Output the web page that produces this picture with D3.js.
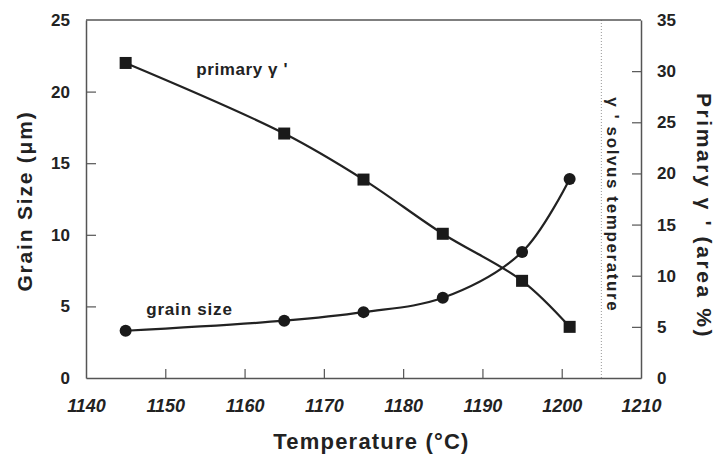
<!DOCTYPE html>
<html>
<head>
<meta charset="utf-8">
<script src="https://cdn.jsdelivr.net/npm/d3@7"></script>
<style>
  body { margin: 0; background: #fff; }
  text { font-family: "Liberation Sans", Arial, sans-serif; fill: #222; }
</style>
</head>
<body>
<div id="chart"></div>
<script>
// temperatures (°C)
const temps = [1145, 1165, 1175, 1185, 1195, 1201];
const grainSize = [3.3, 4.0, 4.6, 5.6, 8.8, 13.9];        // µm, left axis
const primaryGamma = [30.8, 23.9, 19.4, 14.1, 9.5, 5.0];  // area %, right axis
const solvusTemp = 1205;
const xTicks = [1140, 1150, 1160, 1170, 1180, 1190, 1200, 1210];
const yLeftTicks = [0, 5, 10, 15, 20, 25];
const yRightTicks = [0, 5, 10, 15, 20, 25, 30, 35];

const W = 721, H = 459;
const margin = { top: 20, right: 80, bottom: 81, left: 86 };
const width = W - margin.left - margin.right,
      height = H - margin.top - margin.bottom;

const svg = d3.select("#chart").append("svg")
  .attr("width", W).attr("height", H);
const g = svg.append("g")
  .attr("transform", "translate(" + margin.left + "," + margin.top + ")");

const x = d3.scaleLinear().domain([1140, 1210]).range([0, width]);
const yL = d3.scaleLinear().domain([0, 25]).range([height, 0]);
const yR = d3.scaleLinear().domain([0, 35]).range([height, 0]);

const axisColor = "#555";

// dotted solvus line
g.append("line")
  .attr("x1", x(solvusTemp)).attr("x2", x(solvusTemp))
  .attr("y1", 0).attr("y2", height)
  .attr("stroke", "#999").attr("stroke-width", 1)
  .attr("stroke-dasharray", "1,2");

// top border
g.append("line")
  .attr("x1", 0).attr("x2", width).attr("y1", 0).attr("y2", 0)
  .attr("stroke", axisColor).attr("stroke-width", 1.5);

// bottom axis
const xAxis = g.append("g")
  .attr("transform", "translate(0," + height + ")")
  .call(d3.axisBottom(x).tickValues(xTicks).tickFormat(d3.format("d"))
    .tickSizeInner(-9).tickSizeOuter(0).tickPadding(21));
xAxis.selectAll("text")
  .style("font-size", "18px").style("font-weight", "bold").style("font-style", "italic");

// left axis
const leftAxis = g.append("g")
  .call(d3.axisLeft(yL).tickValues(yLeftTicks).tickSizeInner(-10).tickSizeOuter(0).tickPadding(16));
leftAxis.selectAll("text").style("font-size", "17px").style("font-weight", "bold");

// right axis
const rightAxis = g.append("g")
  .attr("transform", "translate(" + width + ",0)")
  .call(d3.axisRight(yR).tickValues(yRightTicks).tickSizeInner(-9).tickSizeOuter(0).tickPadding(16));
rightAxis.selectAll("text").style("font-size", "17px").style("font-weight", "bold");

[xAxis, leftAxis, rightAxis].forEach(a => {
  a.select(".domain").attr("stroke", axisColor).attr("stroke-width", 1.5);
  a.selectAll(".tick line").attr("stroke", axisColor).attr("stroke-width", 1.2);
  a.selectAll(".tick text").attr("fill", "#222");
});
// edge ticks coincide with the frame
xAxis.selectAll(".tick line").filter(d => d === 1140 || d === 1210).remove();
leftAxis.selectAll(".tick line").filter(d => d === 0 || d === 25).remove();
rightAxis.selectAll(".tick line").filter(d => d === 0 || d === 35).remove();

// curves
const grainData = temps.map((t, i) => ({ t, v: grainSize[i] }));
const primData = temps.map((t, i) => ({ t, v: primaryGamma[i] }));

g.append("path")
  .datum(primData)
  .attr("fill", "none").attr("stroke", "#222").attr("stroke-width", 2.2)
  .attr("d", d3.line().x(d => x(d.t)).y(d => yR(d.v)).curve(d3.curveCatmullRom.alpha(0.5)));

g.append("path")
  .datum(grainData)
  .attr("fill", "none").attr("stroke", "#222").attr("stroke-width", 2.2)
  .attr("d", d3.line().x(d => x(d.t)).y(d => yL(d.v)).curve(d3.curveCatmullRom.alpha(0.5)));

// markers
const sq = 12;
g.selectAll("rect.prim")
  .data(primData).enter().append("rect")
  .attr("class", "prim")
  .attr("x", d => x(d.t) - sq / 2).attr("y", d => yR(d.v) - sq / 2)
  .attr("width", sq).attr("height", sq)
  .attr("fill", "#1a1a1a");

g.selectAll("circle.grain")
  .data(grainData).enter().append("circle")
  .attr("class", "grain")
  .attr("cx", d => x(d.t)).attr("cy", d => yL(d.v)).attr("r", 6)
  .attr("fill", "#1a1a1a");

// annotations
g.append("text")
  .attr("x", x(1153.9)).attr("y", yR(29.6))
  .style("font-size", "17px").style("font-weight", "bold").style("letter-spacing", "0.6px")
  .text("primary γ '");

g.append("text")
  .attr("x", x(1147.6)).attr("y", yL(4.4))
  .style("font-size", "17px").style("font-weight", "bold").style("letter-spacing", "0.8px")
  .text("grain size");

g.append("text")
  .attr("transform", "translate(" + (x(solvusTemp) + 6) + "," + yL(12.1) + ") rotate(90)")
  .attr("text-anchor", "middle")
  .style("font-size", "17px").style("font-weight", "bold").style("letter-spacing", "1.6px")
  .text("γ ' solvus temperature");

// axis titles
svg.append("text")
  .attr("x", margin.left + width / 2 + 8).attr("y", 449)
  .attr("text-anchor", "middle")
  .style("font-size", "22px").style("font-weight", "bold").style("letter-spacing", "1.2px")
  .text("Temperature (°C)");

svg.append("text")
  .attr("transform", "translate(32," + 201 + ") rotate(-90)")
  .attr("text-anchor", "middle")
  .style("font-size", "21px").style("font-weight", "bold").style("letter-spacing", "1.8px")
  .text("Grain Size (μm)");

svg.append("text")
  .attr("transform", "translate(697," + 216 + ") rotate(90)")
  .attr("text-anchor", "middle")
  .style("font-size", "21px").style("font-weight", "bold").style("letter-spacing", "2.6px")
  .text("Primary γ ' (area %)");
</script>
</body>
</html>
